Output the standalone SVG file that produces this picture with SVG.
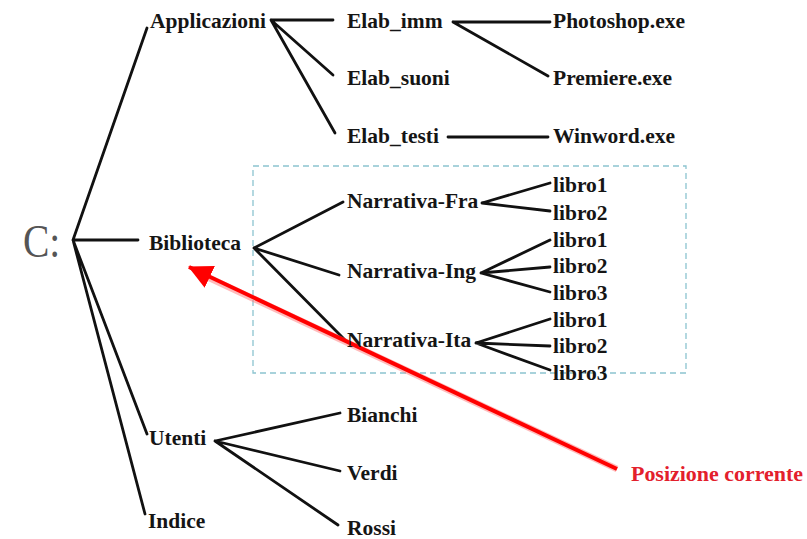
<svg xmlns="http://www.w3.org/2000/svg" width="807" height="539" viewBox="0 0 807 539">
<style>
.t{font-family:"Liberation Serif","Times New Roman",serif;font-weight:bold;font-size:21.5px;fill:#151515}
.c{font-family:"Liberation Serif","Times New Roman",serif;font-size:46px;fill:#555}
.r{font-family:"Liberation Serif","Times New Roman",serif;font-weight:bold;font-size:21.5px;fill:#e3202c}
.l{stroke:#111;stroke-width:2.8;fill:none;stroke-linecap:round}
.box{fill:none;stroke:#8cc4d0;stroke-width:1.3;stroke-dasharray:6 4}
</style>
<defs>
<marker id="ah" markerUnits="userSpaceOnUse" markerWidth="26" markerHeight="26" refX="23" refY="12" orient="auto">
<path d="M0,0 L24,12 L0,24 Z" fill="#f00"/>
</marker>
</defs>
<rect width="807" height="539" fill="#fff"/>
<rect class="box" x="253" y="166" width="433" height="207"/>
<g id="connectors">
<path class="l" d="M73,240 L147,28 M73,240 L138,240 M73,240 L147,434 M73,240 L145,514"/>
<path class="l" d="M271,20 L333,20 M271,20 L333,75 M271,20 L335,133"/>
<path class="l" d="M453,22 L550,22 M453,22 L548,76 M448,137 L548,137"/>
<path class="l" d="M254,248 L343,202 M254,248 L339,275 M254,248 L345,340"/>
<path class="l" d="M482,203 L550,183 M482,203 L550,211"/>
<path class="l" d="M481,273 L550,240 M481,273 L550,267 M481,273 L550,292"/>
<path class="l" d="M476,343 L550,319 M476,343 L550,346 M476,343 L550,370"/>
<path class="l" d="M215,441 L340,413 M215,441 L340,471 M215,441 L338,525"/>
<line x1="617" y1="469" x2="205" y2="276" stroke="#f77" stroke-width="6.5" stroke-opacity="0.5"/>
<line x1="617" y1="469" x2="189" y2="267" stroke="#f00" stroke-width="4" marker-end="url(#ah)"/>
</g>
<g id="root"><text class="c" x="23" y="257" transform="translate(23 0) scale(0.86 1) translate(-23 0)">C:</text></g>
<g id="applicazioni"><text class="t" x="150" y="28">Applicazioni</text></g>
<g id="elab_imm"><text class="t" x="347" y="28">Elab_imm</text></g>
<g id="elab_suoni"><text class="t" x="347" y="85">Elab_suoni</text></g>
<g id="elab_testi"><text class="t" x="347" y="143">Elab_testi</text></g>
<g id="photoshop"><text class="t" x="553" y="28">Photoshop.exe</text></g>
<g id="premiere"><text class="t" x="553" y="85">Premiere.exe</text></g>
<g id="winword"><text class="t" x="553" y="143">Winword.exe</text></g>
<g id="biblioteca"><text class="t" x="149" y="250">Biblioteca</text></g>
<g id="narr_fra"><text class="t" x="347" y="208">Narrativa-Fra</text></g>
<g id="narr_ing"><text class="t" x="347" y="278">Narrativa-Ing</text></g>
<g id="narr_ita"><text class="t" x="347" y="347">Narrativa-Ita</text></g>
<g id="fra_libro1"><text class="t" x="553" y="192">libro1</text></g>
<g id="fra_libro2"><text class="t" x="553" y="220">libro2</text></g>
<g id="ing_libro1"><text class="t" x="553" y="247">libro1</text></g>
<g id="ing_libro2"><text class="t" x="553" y="273">libro2</text></g>
<g id="ing_libro3"><text class="t" x="553" y="300">libro3</text></g>
<g id="ita_libro1"><text class="t" x="553" y="327">libro1</text></g>
<g id="ita_libro2"><text class="t" x="553" y="353">libro2</text></g>
<g id="ita_libro3"><text class="t" x="553" y="380">libro3</text></g>
<g id="utenti"><text class="t" x="149" y="445">Utenti</text></g>
<g id="indice"><text class="t" x="148" y="528">Indice</text></g>
<g id="bianchi"><text class="t" x="347" y="422">Bianchi</text></g>
<g id="verdi"><text class="t" x="347" y="480">Verdi</text></g>
<g id="rossi"><text class="t" x="347" y="535">Rossi</text></g>
<g id="posizione"><text class="r" x="631" y="481" textLength="172" lengthAdjust="spacingAndGlyphs">Posizione corrente</text></g>
</svg>
